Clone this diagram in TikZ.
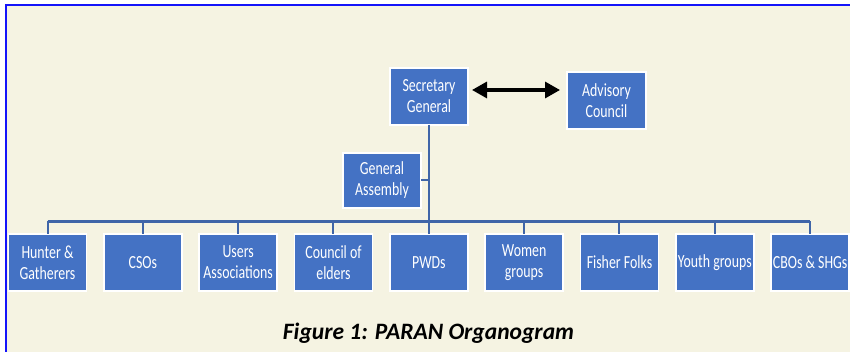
\documentclass[tikz,border=0pt]{standalone}
\usepackage{fontspec}
\setmainfont{Carlito}
\newfontfamily\boxfont[FakeStretch=0.75]{Carlito}
\usepackage{tikz}
\usetikzlibrary{arrows.meta,positioning}
\definecolor{cream}{RGB}{245, 243, 226}
\definecolor{boxblue}{RGB}{68, 114, 196}
\definecolor{linkblue}{RGB}{63, 101, 168}
\definecolor{frameblue}{RGB}{20, 20, 250}
\tikzstyle{unit} = [rectangle, draw=white, line width=1.5pt, fill=boxblue, text=white, align=center, inner sep=0pt, outer sep=0pt, minimum width=78pt, minimum height=57pt, font=\boxfont\fontsize{18.5}{21}\selectfont]
\tikzstyle{tedge}  = [draw=linkblue, line width=2.5pt]
\tikzstyle{stub}  = [draw=linkblue, line width=2pt]
\tikzstyle{biarrow}  = [draw=black, line width=3.2pt, {Triangle[length=15pt,width=16pt]}-{Triangle[length=15pt,width=16pt]}]

\begin{document}
\begin{tikzpicture}[x=1pt, y=-1pt]

% frame =============================
\useasboundingbox (0,0) rectangle (850,352);
\fill[white] (0,0) rectangle (850,352);
\fill[cream] (6,5) rectangle (850,352);
\draw[frameblue, line width=2pt] (6,352) -- (6,5) -- (850,5);

% top level
\node[unit] (sg) at (429,96.5) {Secretary\\General};
\node[unit, right=99pt of sg, yshift=-4pt, minimum width=79pt] (ac) {Advisory\\Council};
\node[unit, below=28pt of sg, xshift=-47pt, minimum height=55pt] (ga) {General\\Assembly};

% member groups
\node[unit] (hunter) at (47.5,262.5) {Hunter \&\\Gatherers};
\node[unit, right=17.33pt of hunter] (cso) {CSOs};
\node[unit, right=17.33pt of cso] (users) {Users\\Associations};
\node[unit, right=17.33pt of users] (elders) {Council of\\elders};
\node[unit, right=17.33pt of elders] (pwd) {PWDs};
\node[unit, right=17.33pt of pwd] (women) {Women\\groups};
\node[unit, right=17.33pt of women] (fisher) {Fisher Folks};
\node[unit, right=17.33pt of fisher] (youth) {Youth groups};
\node[unit, right=17.33pt of youth] (cbo) {CBOs \& SHGs};

% caption
\node[font=\bfseries\itshape\fontsize{23.5}{26}\selectfont] (caption) at (428.5,333) {Figure 1: PARAN Organogram};

%edges
\coordinate (bus) at (429,221.5);
\path[biarrow, shorten <=4pt, shorten >=7pt] ([yshift=6.5pt]sg.east) -- ([yshift=6.5pt]sg.east -| ac.west);
\path[tedge] (sg.south) -- (bus);
\path[stub] (ga.east) -- (ga.east -| sg.south);
\path[tedge] (hunter.north |- bus) -- (cbo.north |- bus);

\path[stub] (hunter.north |- bus) -- (hunter.north);
\path[stub] (cso.north |- bus) -- (cso.north);
\path[stub] (users.north |- bus) -- (users.north);
\path[stub] (elders.north |- bus) -- (elders.north);
\path[stub] (pwd.north |- bus) -- (pwd.north);
\path[stub] (women.north |- bus) -- (women.north);
\path[stub] (fisher.north |- bus) -- (fisher.north);
\path[stub] (youth.north |- bus) -- (youth.north);
\path[stub] (cbo.north |- bus) -- (cbo.north);

\end{tikzpicture}
\end{document}
